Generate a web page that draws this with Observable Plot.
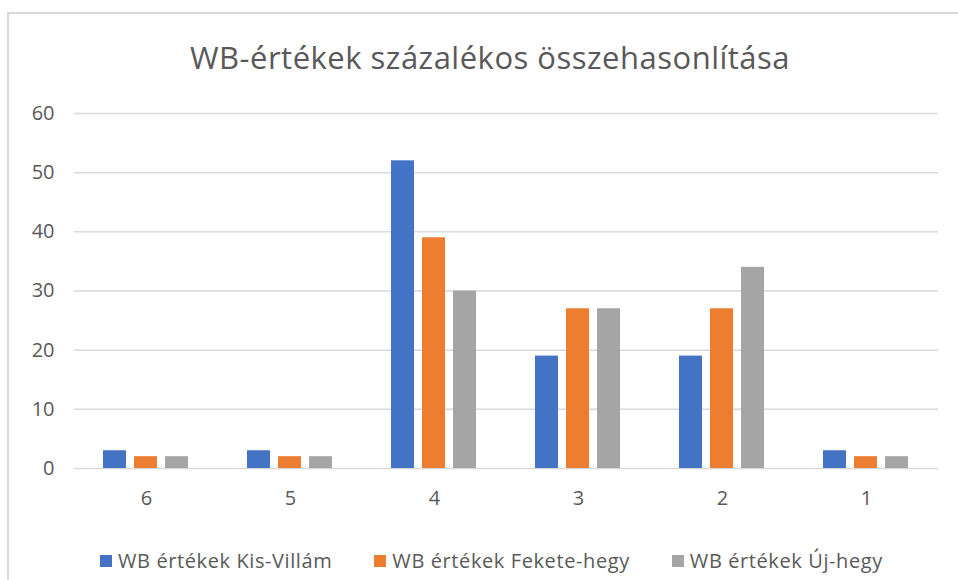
<!DOCTYPE html>
<html>
<head>
<meta charset="utf-8">
<script src="https://cdn.jsdelivr.net/npm/d3@7"></script>
<script src="https://cdn.jsdelivr.net/npm/@observablehq/plot@0.6"></script>
<style>
  html, body { margin: 0; padding: 0; background: #fff; }
  #wrap { position: relative; width: 958px; height: 580px; overflow: hidden; font-family: "Open Sans", sans-serif; }
  #frame { position: absolute; left: 7px; top: 12px; width: 980px; height: 620px; border: 2px solid #d9d9d9; box-sizing: border-box; pointer-events: none; }
  #title { height: 95px; box-sizing: border-box; padding-top: 42px; line-height: 31px; font-size: 31px; letter-spacing: 0.5px; color: #595959; text-align: center; padding-left: 22px; }
  #chart svg { display: block; }
  #legend { height: 65px; box-sizing: border-box; padding-top: 27px; padding-left: 100px; display: flex; align-items: center; font-size: 20px; letter-spacing: 0.6px; color: #595959; }
  .item { display: flex; align-items: center; margin-right: 42px; height: 20px; line-height: 20px; }
  .sw { width: 12px; height: 12px; margin-right: 6px; }
</style>
</head>
<body>
<div id="wrap">
  <div id="frame"></div>
  <div id="title">WB-értékek százalékos összehasonlítása</div>
  <div id="chart"></div>
  <div id="legend"></div>
</div>
<script>
const categories = ["6", "5", "4", "3", "2", "1"];
const seriesNames = ["WB értékek Kis-Villám", "WB értékek Fekete-hegy", "WB értékek Új-hegy"];
const seriesColors = ["#4472C4", "#ED7D31", "#A5A5A5"];
const kisVillam = [3, 3, 52, 19, 19, 3];
const feketeHegy = [2, 2, 39, 27, 27, 2];
const ujHegy = [2, 2, 30, 27, 34, 2];
const yTicks = [0, 10, 20, 30, 40, 50, 60];

const seriesValues = [kisVillam, feketeHegy, ujHegy];
const data = [];
categories.forEach((c, i) => {
  seriesNames.forEach((s, j) => {
    data.push({category: c, series: s, value: seriesValues[j][i]});
  });
});

const chart = Plot.plot({
  width: 958,
  height: 420,
  marginLeft: 72,
  marginRight: 18,
  marginTop: 18,
  marginBottom: 47,
  style: {fontFamily: "Open Sans, sans-serif", fontSize: "20px", color: "#595959", background: "transparent"},
  fx: {domain: categories, padding: 0, label: null, axis: "bottom", tickSize: 0, tickPadding: 22},
  x: {domain: seriesNames, paddingInner: 0.25, paddingOuter: 0.885, axis: null},
  y: {domain: [0, 60], ticks: yTicks, label: null, tickSize: 0, tickPadding: 20},
  color: {domain: seriesNames, range: seriesColors},
  marks: [
    Plot.ruleY(yTicks, {stroke: "#d9d9d9", strokeWidth: 1.5}),
    Plot.barY(data, {fx: "category", x: "series", y: "value", fill: "series"}),
    Plot.axisY({ticks: yTicks, tickSize: 0, tickPadding: 20, label: null, fontSize: 20})
  ]
});
document.getElementById("chart").appendChild(chart);

const legend = document.getElementById("legend");
seriesNames.forEach((s, j) => {
  const item = document.createElement("div");
  item.className = "item";
  const sw = document.createElement("div");
  sw.className = "sw";
  sw.style.background = seriesColors[j];
  const t = document.createElement("span");
  t.textContent = s;
  item.appendChild(sw);
  item.appendChild(t);
  legend.appendChild(item);
});
</script>
</body>
</html>
